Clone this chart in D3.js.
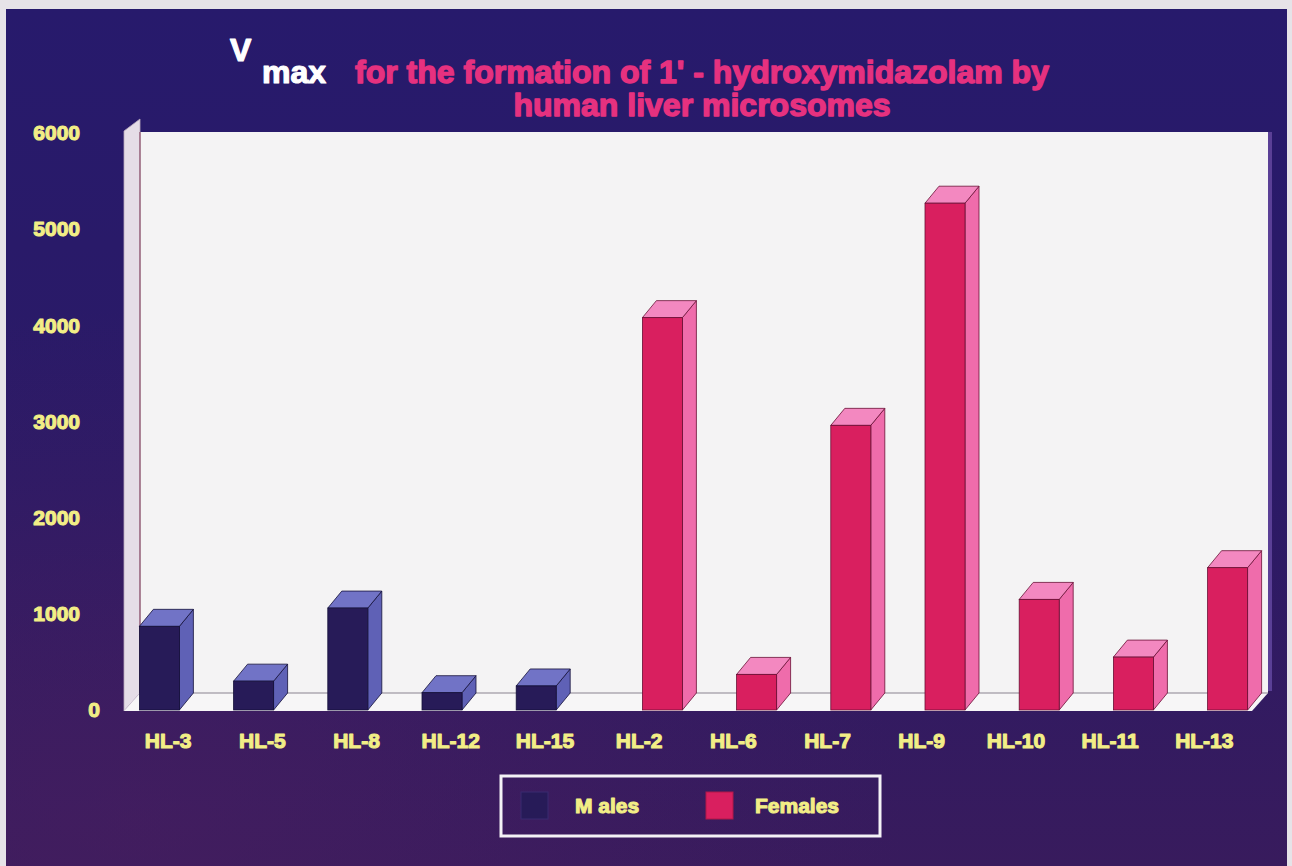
<!DOCTYPE html>
<html>
<head>
<meta charset="utf-8">
<script src="https://cdn.jsdelivr.net/npm/d3@7/dist/d3.min.js"></script>
<style>
  html, body { margin: 0; padding: 0; background: #e8e5ea; }
  svg { display: block; }
  text { font-family: "Liberation Sans", Arial, sans-serif; font-weight: bold; }
</style>
</head>
<body>
<svg id="chart" width="1292" height="866"></svg>
<script>
// Liver samples, in the order they are plotted (males first, then females)
const categories = ["HL-3", "HL-5", "HL-8", "HL-12", "HL-15",
                    "HL-2", "HL-6", "HL-7", "HL-9", "HL-10", "HL-11", "HL-13"];
const sex = ["Males", "Males", "Males", "Males", "Males",
             "Females", "Females", "Females", "Females", "Females", "Females", "Females"];
// Vmax values
const vmax = [870, 300, 1060, 180, 250, 4080, 370, 2960, 5270, 1150, 550, 1480];
const series = ["Males", "Females"];
const yTicks = [0, 1000, 2000, 3000, 4000, 5000, 6000];

const svg = d3.select("#chart");
const W = 1292, H = 866;
const yellow = "#f2ee86";

// ---- background panel ----
const defs = svg.append("defs");
const bg = defs.append("linearGradient").attr("id", "bg").attr("x1", 0).attr("y1", 0).attr("x2", 0).attr("y2", 1);
bg.append("stop").attr("offset", "0%").attr("stop-color", "#271a6c");
bg.append("stop").attr("offset", "55%").attr("stop-color", "#2b1a66");
bg.append("stop").attr("offset", "100%").attr("stop-color", "#381b5d");
const glow = defs.append("radialGradient").attr("id", "glow").attr("cx", 0.1).attr("cy", 0.95).attr("r", 0.6);
glow.append("stop").attr("offset", "0%").attr("stop-color", "#4a1f60").attr("stop-opacity", 0.55);
glow.append("stop").attr("offset", "100%").attr("stop-color", "#4a1f60").attr("stop-opacity", 0);

svg.append("rect").attr("width", W).attr("height", H).attr("fill", "#e6e3e8");
svg.append("rect").attr("x", 6).attr("y", 9).attr("width", W - 11).attr("height", H - 9).attr("fill", "url(#bg)");
svg.append("rect").attr("x", 6).attr("y", 9).attr("width", W - 11).attr("height", H - 9).attr("fill", "url(#glow)");

// ---- scales ----
const y = d3.scaleLinear().domain([0, 6000]).range([710, 133]);
const x0 = d3.scaleBand().domain(categories).range([121, 121 + 94.2 * categories.length]).padding(0);
const x1 = d3.scalePoint().domain(series).range([18.4, 50.4]);
const barW = 40;
const depth = { dx: 14, dy: -17 };
const color = {
  Males:   { front: "#271b58", side: "#5f61b6", top: "#7173c6", stroke: "#14103a" },
  Females: { front: "#d91f5f", side: "#ef6cab", top: "#f388c0", stroke: "#6a0f35" }
};

// ---- 3D walls and floor ----
const wallL = 140, wallR = 1268, wallTop = 132, floorBack = 693, floorFront = y(0) + 1;
svg.append("rect").attr("x", wallL).attr("y", wallTop).attr("width", wallR - wallL).attr("height", floorBack - wallTop)
  .attr("fill", "#f4f3f4");
svg.append("line").attr("x1", wallR + 2).attr("x2", wallR + 2).attr("y1", wallTop).attr("y2", floorBack - 2)
  .attr("stroke", "#5a3f96").attr("stroke-width", 4);
// side wall
svg.append("polygon")
  .attr("points", [[124, 131], [140, 119], [140, floorBack], [124, floorFront]].map(p => p.join(",")).join(" "))
  .attr("fill", "#e5dde7").attr("stroke", "#b9aabd").attr("stroke-width", 0.8);
svg.append("line").attr("x1", 140).attr("x2", 140).attr("y1", wallTop).attr("y2", floorBack)
  .attr("stroke", "#7a3050").attr("stroke-width", 1);
// floor
svg.append("polygon")
  .attr("points", [[124, floorFront], [140, floorBack], [wallR, floorBack], [wallR - 16, floorFront]].map(p => p.join(",")).join(" "))
  .attr("fill", "#f7f6f7");
svg.append("line").attr("x1", 140).attr("x2", wallR).attr("y1", floorBack).attr("y2", floorBack)
  .attr("stroke", "#8a8290").attr("stroke-width", 1);

// ---- bars ----
const data = categories.map((c, i) => ({ cat: c, sex: sex[i], value: vmax[i] }));
const bars = svg.append("g").selectAll("g").data(data).join("g");
const pts = a => a.map(p => p.join(",")).join(" ");
bars.each(function (d) {
  const g = d3.select(this);
  const xl = x0(d.cat) + x1(d.sex), xr = xl + barW;
  const yt = y(d.value), yb = y(0);
  const c = color[d.sex];
  g.append("polygon").attr("points", pts([[xr, yt], [xr + depth.dx, yt + depth.dy], [xr + depth.dx, yb + depth.dy], [xr, yb]]))
    .attr("fill", c.side).attr("stroke", c.stroke).attr("stroke-width", 0.8);
  g.append("polygon").attr("points", pts([[xl, yt], [xl + depth.dx, yt + depth.dy], [xr + depth.dx, yt + depth.dy], [xr, yt]]))
    .attr("fill", c.top).attr("stroke", c.stroke).attr("stroke-width", 0.8);
  g.append("rect").attr("x", xl).attr("y", yt).attr("width", barW).attr("height", yb - yt)
    .attr("fill", c.front).attr("stroke", c.stroke).attr("stroke-width", 0.8);
});

// heavy lettering: fill plus a same-colour outline
const heavy = (sel, fill, w) => sel.attr("fill", fill).attr("stroke", fill).attr("stroke-width", w)
  .attr("stroke-linejoin", "round");

// ---- axes ----
const yAxis = svg.append("g").attr("transform", "translate(80,0)")
  .call(d3.axisLeft(y).tickValues(yTicks).tickSize(0).tickPadding(0).tickFormat(d3.format("d")));
yAxis.select(".domain").remove();
yAxis.selectAll("text").attr("font-size", 21)
  .attr("font-family", "'Liberation Sans', Arial, sans-serif").attr("font-weight", "bold")
  .attr("dx", d => d === 0 ? 20 : 0)
  .call(heavy, yellow, 1.1);

const xAxis = svg.append("g").attr("transform", "translate(0,733)")
  .call(d3.axisBottom(x0).tickSize(0).tickPadding(0));
xAxis.select(".domain").remove();
xAxis.selectAll("text").attr("font-size", 21)
  .attr("font-family", "'Liberation Sans', Arial, sans-serif").attr("font-weight", "bold")
  .attr("dy", "0.71em")
  .call(heavy, yellow, 1.1);

// ---- title ----
svg.append("text").attr("x", 230).attr("y", 61).attr("font-size", 32).text("V").call(heavy, "#ffffff", 1.2);
svg.append("text").attr("x", 262).attr("y", 83).attr("font-size", 32).text("max").call(heavy, "#ffffff", 1.2);
svg.append("text").attr("x", 702).attr("y", 83).attr("text-anchor", "middle").attr("font-size", 32)
  .text("for the formation of 1' - hydroxymidazolam by").call(heavy, "#e6317f", 1.4);
svg.append("text").attr("x", 702).attr("y", 116).attr("text-anchor", "middle").attr("font-size", 32)
  .text("human liver microsomes").call(heavy, "#e6317f", 1.4);

// ---- legend ----
const lg = svg.append("g");
lg.append("rect").attr("x", 501).attr("y", 776).attr("width", 379).attr("height", 60)
  .attr("fill", "none").attr("stroke", "#f4f2f6").attr("stroke-width", 3);
const legendItems = [
  { key: "Males", label: "M ales", sx: 521, tx: 575 },
  { key: "Females", label: "Females", sx: 706, tx: 755 }
];
legendItems.forEach(it => {
  lg.append("rect").attr("x", it.sx).attr("y", 792).attr("width", 27).attr("height", 27)
    .attr("fill", color[it.key].front).attr("stroke", it.key === "Males" ? "#3a2a70" : "#b01848").attr("stroke-width", 1);
  lg.append("text").attr("x", it.tx).attr("y", 813).attr("font-size", 21).text(it.label).call(heavy, yellow, 1.1);
});
</script>
</body>
</html>
